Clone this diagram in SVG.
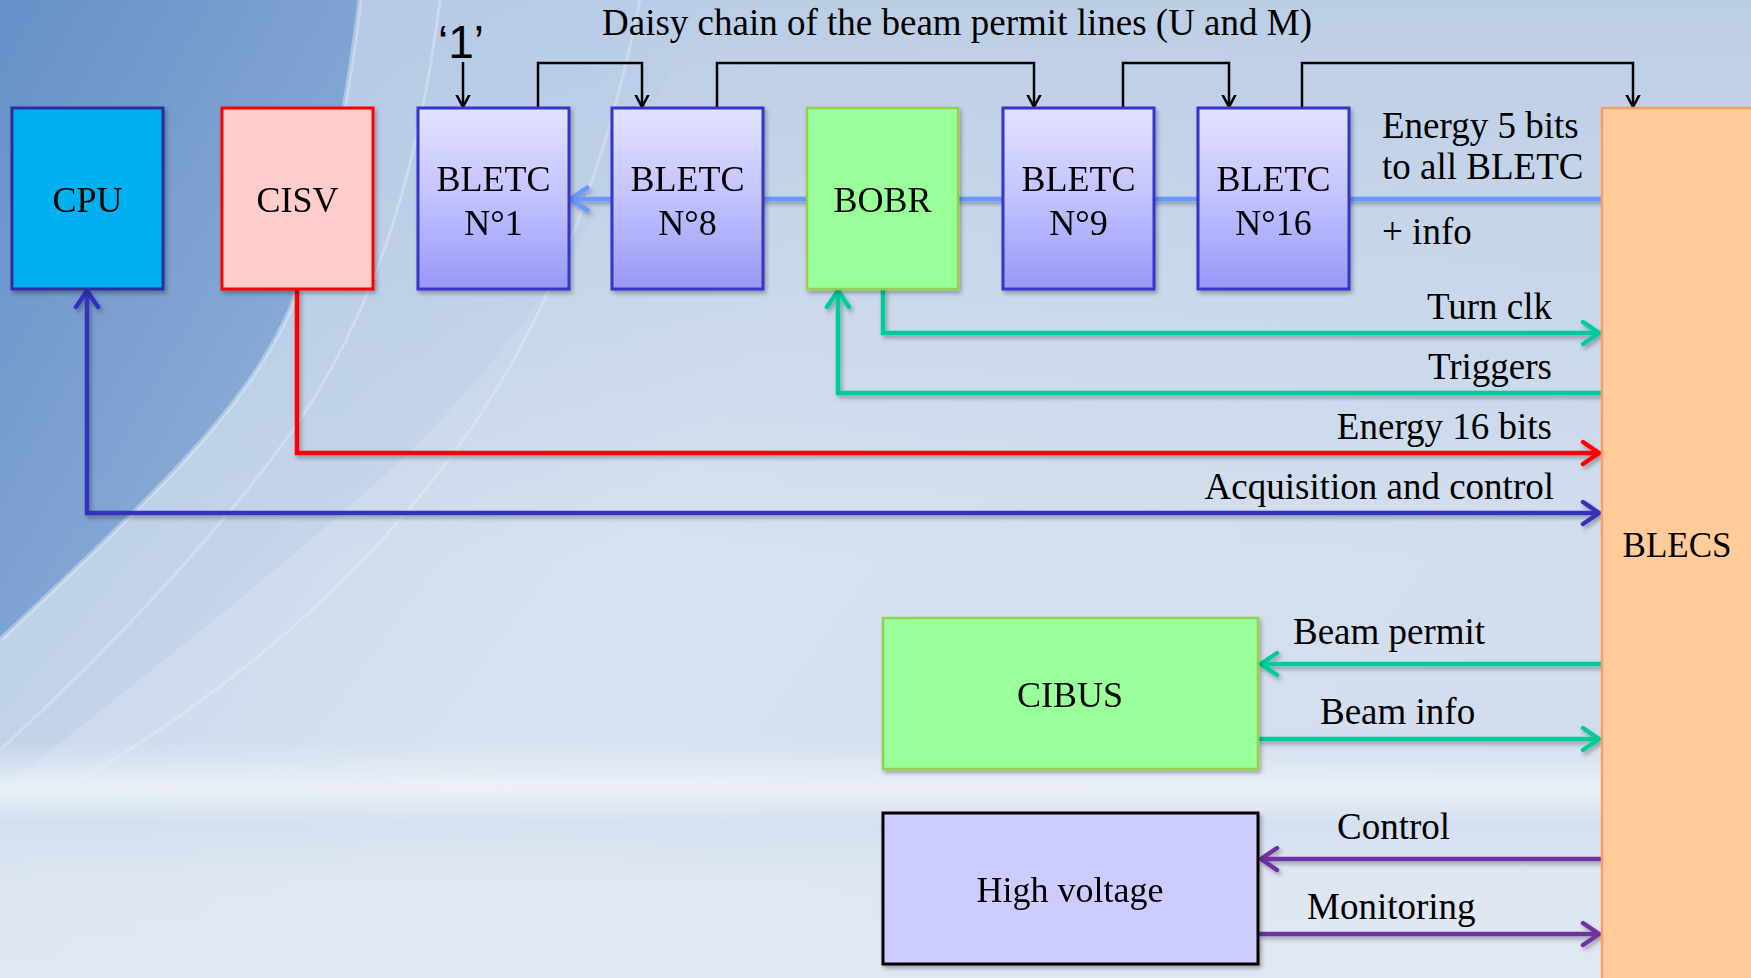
<svg xmlns="http://www.w3.org/2000/svg" width="1751" height="978" viewBox="0 0 1751 978">
<style>
text{font-family:"Liberation Serif","Times New Roman",serif;fill:#000}
.box{font-size:36px;text-anchor:middle}
.lbl{font-size:37px}
.end{text-anchor:end}
.bletc{fill:url(#gBletc);stroke:#3535CC;stroke-width:3}
.green{fill:#99FF99;stroke:#92D050;stroke-width:2.5}
.chain{fill:none;stroke:#000;stroke-width:2.5}
.c{fill:none;stroke-width:4.5;stroke-linejoin:miter}
</style>
<defs>
<linearGradient id="gBletc" x1="0" y1="0" x2="0" y2="1">
<stop offset="0" stop-color="#E2E2FF"/>
<stop offset="0.5" stop-color="#C2C2FF"/>
<stop offset="1" stop-color="#9898F8"/>
</linearGradient>
<linearGradient id="gBase" x1="0" y1="0" x2="1" y2="0.4">
<stop offset="0" stop-color="#BCD0E8"/>
<stop offset="0.5" stop-color="#D8E2F0"/>
<stop offset="1" stop-color="#D2DEEE"/>
</linearGradient>
<linearGradient id="gTop" x1="0" y1="0" x2="0" y2="1">
<stop offset="0" stop-color="#BCCEE6" stop-opacity="1"/>
<stop offset="1" stop-color="#BCCEE6" stop-opacity="0"/>
</linearGradient>
<linearGradient id="gDark" x1="0" y1="0" x2="1" y2="1">
<stop offset="0" stop-color="#6690C8"/>
<stop offset="0.6" stop-color="#84A7D4"/>
<stop offset="1" stop-color="#9AB7DD"/>
</linearGradient>
<linearGradient id="gMid" x1="0" y1="0" x2="1" y2="1">
<stop offset="0" stop-color="#A6C0E2"/>
<stop offset="1" stop-color="#CCDAEC"/>
</linearGradient>
<linearGradient id="gBottom" x1="0" y1="0" x2="0" y2="1">
<stop offset="0" stop-color="#E8EEF6" stop-opacity="0"/>
<stop offset="0.2" stop-color="#F0F4F9" stop-opacity="0.85"/>
<stop offset="0.35" stop-color="#D6E1EF" stop-opacity="0.7"/>
<stop offset="0.6" stop-color="#E4EAF4" stop-opacity="0.7"/>
<stop offset="1" stop-color="#E6ECF5" stop-opacity="0.7"/>
</linearGradient>
<filter id="sh" x="-5%" y="-5%" width="110%" height="115%">
<feDropShadow dx="2" dy="3" stdDeviation="2" flood-color="#000" flood-opacity="0.3"/>
</filter>
<marker id="aBlack" markerUnits="userSpaceOnUse" viewBox="-12 -12 24 24" markerWidth="24" markerHeight="24" refX="0" refY="0" orient="auto">
<path d="M-18 -9.5 L0 0 L-18 9.5" fill="none" stroke="#000" stroke-width="2.5"/>
</marker>
<marker id="aGreen" markerUnits="userSpaceOnUse" viewBox="-20 -14 24 28" markerWidth="24" markerHeight="28" refX="0" refY="0" orient="auto">
<path d="M-16 -11 L0 0 L-16 11" fill="none" stroke="#00CC99" stroke-width="4.5" stroke-linecap="round"/>
</marker>
<marker id="aRed" markerUnits="userSpaceOnUse" viewBox="-20 -14 24 28" markerWidth="24" markerHeight="28" refX="0" refY="0" orient="auto">
<path d="M-16 -11 L0 0 L-16 11" fill="none" stroke="#FF0000" stroke-width="4.5" stroke-linecap="round"/>
</marker>
<marker id="aNavy" markerUnits="userSpaceOnUse" viewBox="-20 -14 24 28" markerWidth="24" markerHeight="28" refX="0" refY="0" orient="auto">
<path d="M-16 -11 L0 0 L-16 11" fill="none" stroke="#3333BB" stroke-width="4.5" stroke-linecap="round"/>
</marker>
<marker id="aNavyS" markerUnits="userSpaceOnUse" viewBox="-20 -14 24 28" markerWidth="24" markerHeight="28" refX="0" refY="0" orient="auto-start-reverse">
<path d="M-16 -11 L0 0 L-16 11" fill="none" stroke="#3333BB" stroke-width="4.5" stroke-linecap="round"/>
</marker>
<marker id="aPurple" markerUnits="userSpaceOnUse" viewBox="-20 -14 24 28" markerWidth="24" markerHeight="28" refX="0" refY="0" orient="auto">
<path d="M-16 -11 L0 0 L-16 11" fill="none" stroke="#7030A0" stroke-width="4.5" stroke-linecap="round"/>
</marker>
<marker id="aLight" markerUnits="userSpaceOnUse" viewBox="-20 -14 24 28" markerWidth="24" markerHeight="28" refX="0" refY="0" orient="auto">
<path d="M-16 -11 L0 0 L-16 11" fill="none" stroke="#6699FF" stroke-width="5" stroke-linecap="round"/>
</marker>
</defs>

<g id="background">
<rect x="0" y="0" width="1751" height="978" fill="url(#gBase)"/>
<rect x="0" y="0" width="1751" height="560" fill="url(#gTop)"/>
<path d="M0 0 H700 C640 160 540 330 390 470 C280 570 140 680 0 790 Z" fill="url(#gMid)" opacity="0.5"/>
<path d="M0 0 H360 C345 120 325 220 290 310 C245 410 160 490 0 640 Z" fill="url(#gDark)"/>
<path d="M360 0 C345 120 325 220 290 310 C245 410 160 490 0 640" fill="none" stroke="#E0EAF7" stroke-width="5" opacity="0.45"/>
<path d="M440 0 C420 160 380 300 300 420 C230 520 120 640 0 750" fill="none" stroke="#EEF3FA" stroke-width="3" opacity="0.35"/>
<path d="M640 0 C610 150 560 300 470 430 C380 560 250 680 80 780" fill="none" stroke="#F2F6FB" stroke-width="3" opacity="0.3"/>
<rect x="0" y="740" width="1751" height="238" fill="url(#gBottom)"/>
</g>

<g id="connectors">
<path class="chain" d="M463 62 V107" marker-end="url(#aBlack)"/>
<path class="chain" d="M538 108 V63 H642 V107" marker-end="url(#aBlack)"/>
<path class="chain" d="M717 108 V63 H1034 V107" marker-end="url(#aBlack)"/>
<path class="chain" d="M1123 108 V63 H1229 V107" marker-end="url(#aBlack)"/>
<path class="chain" d="M1302 108 V63 H1633 V107" marker-end="url(#aBlack)"/>
<g filter="url(#sh)">
<path class="c" d="M1602 199 H571" stroke="#6699FF" stroke-width="5" marker-end="url(#aLight)"/>
<path class="c" d="M883 289 V333 H1599" stroke="#00CC99" marker-end="url(#aGreen)"/>
<path class="c" d="M1602 393 H838 V291" stroke="#00CC99" marker-end="url(#aGreen)"/>
<path class="c" d="M297 289 V453 H1599" stroke="#FF0000" marker-end="url(#aRed)"/>
<path class="c" d="M87 291 V513 H1599" stroke="#3333BB" marker-start="url(#aNavyS)" marker-end="url(#aNavy)"/>
<path class="c" d="M1602 664 H1261" stroke="#00CC99" marker-end="url(#aGreen)"/>
<path class="c" d="M1258 739 H1599" stroke="#00CC99" marker-end="url(#aGreen)"/>
<path class="c" d="M1602 859 H1261" stroke="#7030A0" marker-end="url(#aPurple)"/>
<path class="c" d="M1258 934 H1599" stroke="#7030A0" marker-end="url(#aPurple)"/>
</g>
</g>

<g id="labels">
<text x="461" y="58" style="font-family:'Liberation Sans',Arial,sans-serif;font-size:46px" text-anchor="middle">‘1’</text>
<text class="lbl" x="602" y="35">Daisy chain of the beam permit lines (U and M)</text>
<text class="lbl" x="1382" y="138">Energy 5 bits</text>
<text class="lbl" x="1382" y="179">to all BLETC</text>
<text class="lbl" x="1382" y="244">+ info</text>
<text class="lbl end" x="1552" y="319">Turn clk</text>
<text class="lbl end" x="1552" y="379">Triggers</text>
<text class="lbl end" x="1552" y="439">Energy 16 bits</text>
<text class="lbl end" x="1554" y="499">Acquisition and control</text>
<text class="lbl" x="1293" y="644">Beam permit</text>
<text class="lbl" x="1320" y="724">Beam info</text>
<text class="lbl" x="1337" y="839">Control</text>
<text class="lbl" x="1307" y="919">Monitoring</text>
</g>

<g id="cpu" filter="url(#sh)">
<rect x="12" y="108" width="151" height="181" fill="#00B0F0" stroke="#2B2E9E" stroke-width="3"/>
<text class="box" x="87.5" y="212">CPU</text>
</g>
<g id="cisv" filter="url(#sh)">
<rect x="222" y="108" width="151" height="181" fill="#FFCCCC" stroke="#FF0000" stroke-width="3"/>
<text class="box" x="297.5" y="212">CISV</text>
</g>
<g id="bletc1" filter="url(#sh)">
<rect class="bletc" x="418" y="108" width="151" height="181"/>
<text class="box" x="493.5" y="191">BLETC</text>
<text class="box" x="493.5" y="235">N°1</text>
</g>
<g id="bletc8" filter="url(#sh)">
<rect class="bletc" x="612" y="108" width="151" height="181"/>
<text class="box" x="687.5" y="191">BLETC</text>
<text class="box" x="687.5" y="235">N°8</text>
</g>
<g id="bobr" filter="url(#sh)">
<rect class="green" x="807" y="108" width="151" height="181"/>
<text class="box" x="882.5" y="212">BOBR</text>
</g>
<g id="bletc9" filter="url(#sh)">
<rect class="bletc" x="1003" y="108" width="151" height="181"/>
<text class="box" x="1078.5" y="191">BLETC</text>
<text class="box" x="1078.5" y="235">N°9</text>
</g>
<g id="bletc16" filter="url(#sh)">
<rect class="bletc" x="1198" y="108" width="151" height="181"/>
<text class="box" x="1273.5" y="191">BLETC</text>
<text class="box" x="1273.5" y="235">N°16</text>
</g>
<g id="blecs">
<rect x="1602" y="108" width="200" height="900" fill="#FFCC99" stroke="#FF9966" stroke-width="2.5"/>
<text class="box" x="1677" y="557" style="font-size:35px">BLECS</text>
</g>
<g id="cibus" filter="url(#sh)">
<rect class="green" x="883" y="618" width="375" height="151"/>
<text class="box" x="1070" y="707">CIBUS</text>
</g>
<g id="highvoltage" filter="url(#sh)">
<rect x="883" y="813" width="375" height="151" fill="#CCCCFF" stroke="#000" stroke-width="3"/>
<text class="box" x="1070" y="902">High voltage</text>
</g>
</svg>
